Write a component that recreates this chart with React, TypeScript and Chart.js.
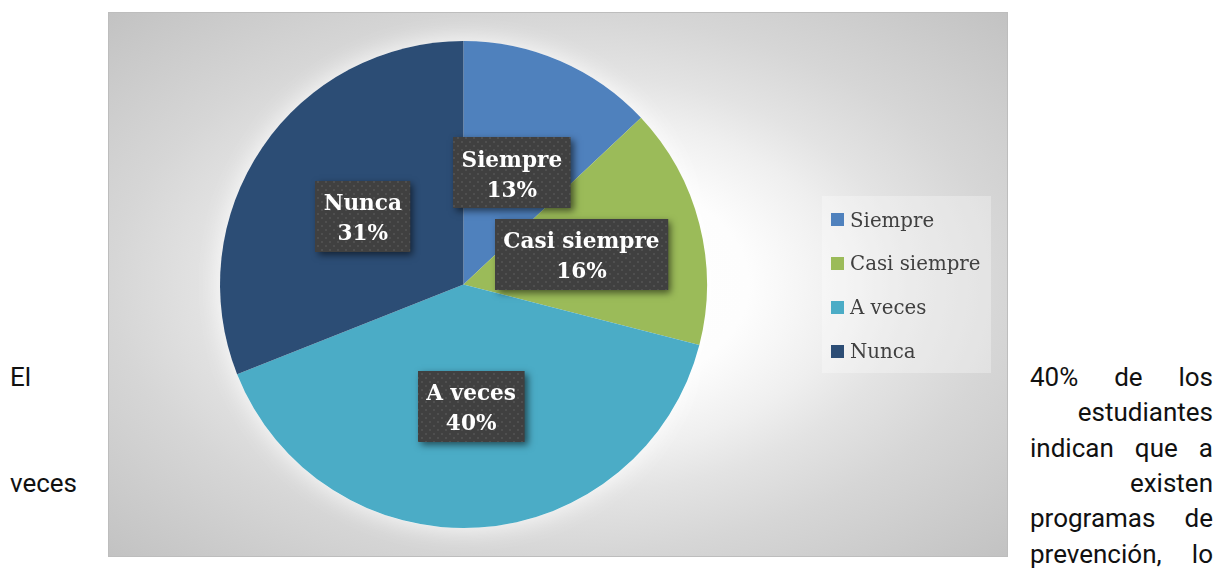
import React, { useEffect, useRef } from 'react';
import { Chart, registerables } from 'chart.js';

Chart.register(...registerables);

// ---- data ----
const categories = ['Siempre', 'Casi siempre', 'A veces', 'Nunca'];
const values = [13, 16, 40, 31];
const sliceColors = ['#4F81BD', '#9BBB59', '#4BACC6', '#2C4D75'];

// surrounding document text (wrapped around the chart)
const leftWords = ['El', '', '', 'veces'];
const rightLines = ['40% de los', 'estudiantes', 'indican que a', 'existen', 'programas de', 'prevención, lo'];

const BOX = { left: 108, top: 12, width: 900, height: 545 };
const TEXT_FIRST_BASELINE = 386;
const TEXT_LINE_GAP = 35.3;

function makePattern(ctx: CanvasRenderingContext2D): CanvasPattern | null {
  const pc = document.createElement('canvas');
  pc.width = 8;
  pc.height = 8;
  const p = pc.getContext('2d');
  if (!p) return null;
  p.fillStyle = 'rgba(255,255,255,0.08)';
  p.fillRect(1, 1, 2, 2);
  p.fillRect(5, 5, 2, 2);
  return ctx.createPattern(pc, 'repeat');
}

const glowPlugin = {
  id: 'pieGlow',
  beforeDatasetsDraw(chart: any) {
    const arc = chart.getDatasetMeta(0).data[0];
    if (!arc) return;
    const { x, y, outerRadius } = arc.getProps(['x', 'y', 'outerRadius'], true);
    const ctx = chart.ctx as CanvasRenderingContext2D;
    ctx.save();
    ctx.shadowColor = 'rgba(255,255,255,0.9)';
    ctx.shadowBlur = 26;
    ctx.fillStyle = '#ffffff';
    ctx.beginPath();
    ctx.arc(x, y, outerRadius, 0, Math.PI * 2);
    ctx.fill();
    ctx.restore();
  },
};

const boxLabelPlugin = {
  id: 'boxLabels',
  afterDatasetsDraw(chart: any) {
    const ctx = chart.ctx as CanvasRenderingContext2D;
    const meta = chart.getDatasetMeta(0);
    const data = chart.data.datasets[0].data as number[];
    const total = data.reduce((a, b) => a + b, 0);
    const pattern = makePattern(ctx);
    meta.data.forEach((arc: any, i: number) => {
      const { x, y } = arc.tooltipPosition(true);
      const l1 = String(chart.data.labels[i]);
      const l2 = Math.round((data[i] / total) * 100) + '%';
      ctx.save();
      ctx.font = 'bold 21.6px "DejaVu Serif"';
      const w = Math.max(ctx.measureText(l1).width, ctx.measureText(l2).width) + 17;
      const h = 71;
      const bx = Math.round(x - w / 2);
      const by = Math.round(y - h / 2);
      ctx.shadowColor = 'rgba(0,0,0,0.55)';
      ctx.shadowBlur = 7;
      ctx.shadowOffsetX = 3;
      ctx.shadowOffsetY = 3;
      ctx.fillStyle = '#404040';
      ctx.fillRect(bx, by, w, h);
      ctx.shadowColor = 'transparent';
      ctx.shadowBlur = 0;
      ctx.shadowOffsetX = 0;
      ctx.shadowOffsetY = 0;
      if (pattern) {
        ctx.fillStyle = pattern;
        ctx.fillRect(bx, by, w, h);
      }
      ctx.fillStyle = '#ffffff';
      ctx.textAlign = 'center';
      ctx.textBaseline = 'alphabetic';
      ctx.fillText(l1, x, y - 6);
      ctx.fillText(l2, x, y + 24);
      ctx.restore();
    });
  },
};

const legendPlugin = {
  id: 'sideLegend',
  afterDraw(chart: any) {
    const ctx = chart.ctx as CanvasRenderingContext2D;
    const labels = chart.data.labels as string[];
    const colors = chart.data.datasets[0].backgroundColor as string[];
    ctx.save();
    ctx.fillStyle = 'rgba(255,255,255,0.3)';
    ctx.fillRect(714, 184, 169, 177);
    ctx.font = '19.8px "DejaVu Serif"';
    ctx.textAlign = 'left';
    ctx.textBaseline = 'alphabetic';
    labels.forEach((lab, i) => {
      const cy = 207.5 + i * 43.9;
      ctx.fillStyle = colors[i];
      ctx.fillRect(723, Math.round(cy - 6.5), 13, 13);
      ctx.fillStyle = '#404040';
      ctx.fillText(lab, 742, cy + 7);
    });
    ctx.restore();
  },
};

function PieChart() {
  const ref = useRef<HTMLCanvasElement | null>(null);
  useEffect(() => {
    if (!ref.current) return;
    const chart = new Chart(ref.current, {
      type: 'pie',
      data: {
        labels: categories,
        datasets: [
          {
            data: values,
            backgroundColor: sliceColors,
            borderWidth: 0,
          },
        ],
      },
      options: {
        animation: false,
        responsive: true,
        maintainAspectRatio: false,
        layout: { padding: { left: 112, right: 301, top: 29, bottom: 29 } },
        plugins: {
          legend: { display: false },
          tooltip: { enabled: false },
        },
      },
      plugins: [glowPlugin, boxLabelPlugin, legendPlugin],
    });
    return () => chart.destroy();
  }, []);
  return <canvas ref={ref} />;
}

const textStyle: React.CSSProperties = {
  position: 'absolute',
  fontFamily: 'Roboto, sans-serif',
  fontSize: '26px',
  lineHeight: '26px',
  color: '#111',
  whiteSpace: 'nowrap',
};

export default function App() {
  return (
    <div
      style={{
        position: 'fixed',
        left: 0,
        top: 0,
        width: 1215,
        height: 570,
        background: '#ffffff',
        overflow: 'hidden',
      }}
    >
      {leftWords.map((w, i) =>
        w ? (
          <div key={'l' + i} style={{ ...textStyle, left: 10, top: TEXT_FIRST_BASELINE + i * TEXT_LINE_GAP - 21.9 }}>
            {w}
          </div>
        ) : null
      )}
      {rightLines.map((line, i) => {
        const words = line.split(' ');
        return (
          <div
            key={'r' + i}
            style={{
              ...textStyle,
              left: 1030,
              width: 183,
              top: TEXT_FIRST_BASELINE + i * TEXT_LINE_GAP - 21.9,
              display: 'flex',
              justifyContent: words.length > 1 ? 'space-between' : 'flex-end',
            }}
          >
            {words.map((w, j) => (
              <span key={j}>{w}</span>
            ))}
          </div>
        );
      })}
      <div
        style={{
          position: 'absolute',
          left: BOX.left,
          top: BOX.top,
          width: BOX.width,
          height: BOX.height,
          background:
            'radial-gradient(farthest-corner at 50% 50%, #ffffff 0%, #fdfdfd 30%, #efefef 45%, #e3e3e3 55%, #d6d6d6 70%, #c2c2c2 100%)',
          boxShadow: 'inset 0 0 0 1px #bdbdbd',
        }}
      >
        <div style={{ position: 'absolute', inset: 0 }}>
          <PieChart />
        </div>
      </div>
    </div>
  );
}
